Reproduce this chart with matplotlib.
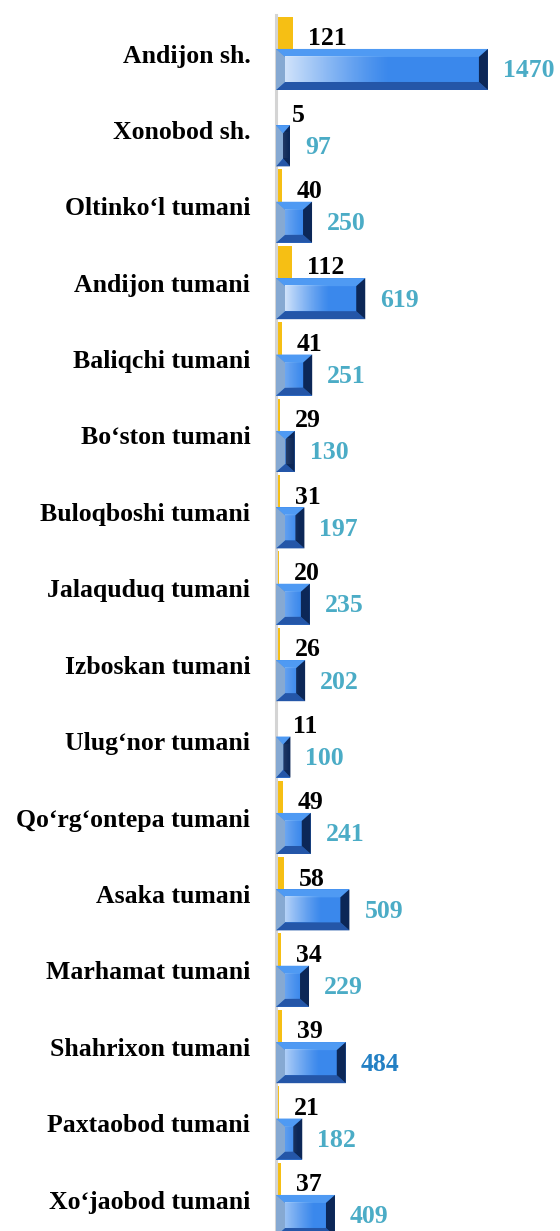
import numpy as np
import matplotlib
matplotlib.use("Agg")
import matplotlib.pyplot as plt
from matplotlib.patches import Polygon

districts = [
    "Andijon sh.", "Xonobod sh.", "Oltinko‘l tumani", "Andijon tumani",
    "Baliqchi tumani", "Bo‘ston tumani", "Buloqboshi tumani", "Jalaquduq tumani",
    "Izboskan tumani", "Ulug‘nor tumani", "Qo‘rg‘ontepa tumani", "Asaka tumani",
    "Marhamat tumani", "Shahrixon tumani", "Paxtaobod tumani", "Xo‘jaobod tumani",
]
small_vals = [121, 5, 40, 112, 41, 29, 31, 20, 26, 11, 49, 58, 34, 39, 21, 37]
large_vals = [1470, 97, 250, 619, 251, 130, 197, 235, 202, 100, 241, 509, 229, 484, 182, 409]

plt.rcParams["font.family"] = ["Liberation Serif", "DejaVu Serif"]

W, H, DPI = 560, 1231, 100
fig = plt.figure(figsize=(W / DPI, H / DPI), dpi=DPI)
ax = fig.add_axes([276 / W, 0, 284 / W, 1])

XMAX = 1970
row_px = 76.4
y_top = -53.5 / row_px
y_bot = (H - 53.5) / row_px

ypos = np.arange(len(districts))
y_small = ypos - 0.229
y_large = ypos + 0.209
h_small, h_large = 0.51, 0.537

# yellow series
ax.barh(y_small, small_vals, height=h_small, color="#F6BF14", zorder=2)

# blue series with a bevel look
px_x = 284 / XMAX  # pixels per unit
for y, v in zip(y_large, large_vals):
    y0, y1 = y - h_large / 2, y + h_large / 2
    ax.barh(y, v, height=h_large, color="#3A88EC", zorder=3)
    bx = min(9 / px_x, v / 2)
    by = 8 / row_px
    polys = [
        ([(0, y0), (v, y0), (v - bx, y0 + by), (bx, y0 + by)], "#4F9AF3"),
        ([(0, y1), (v, y1), (v - bx, y1 - by), (bx, y1 - by)], "#2456A8"),
        ([(v, y0), (v, y1), (v - bx, y1 - by), (v - bx, y0 + by)], "#0C2757"),
        ([(0, y0), (0, y1), (bx, y1 - by), (bx, y0 + by)], "#86A9D2"),
    ]
    for pts, c in polys:
        ax.add_patch(Polygon(pts, closed=True, facecolor=c, edgecolor="none", zorder=4))
    # soft shine from the left
    length = v * 0.5
    amax = 0.8 * min(1.0, v / 600)
    grad = np.zeros((1, 64, 4))
    grad[..., :3] = 1.0
    grad[0, :, 3] = np.linspace(amax, 0, 64) ** 1.2
    ax.imshow(grad, extent=(bx, bx + length, y1 - by, y0 + by), aspect="auto",
              zorder=5, interpolation="bilinear")

# value labels
label_colors = {"Shahrixon tumani": "#2380C4"}
for name, y, v in zip(districts, y_small, small_vals):
    ax.annotate(str(v), (v, y), xytext=(15 * 72 / DPI, -2), textcoords="offset points",
                ha="left", va="center", fontsize=18.5, fontweight="bold",
                color="black", zorder=6)
for name, y, v in zip(districts, y_large, large_vals):
    ax.annotate(str(v), (v, y), xytext=(15 * 72 / DPI, -1), textcoords="offset points",
                ha="left", va="center", fontsize=18.5, fontweight="bold",
                color=label_colors.get(name, "#4BACC6"), zorder=6)

ax.set_xlim(0, XMAX)
ax.set_ylim(y_bot, y_top)
ax.set_yticks(ypos, districts, fontsize=18.5, fontweight="bold")
ax.tick_params(axis="y", length=0, pad=18.5)
ax.set_xticks([])
for s in ("top", "right", "bottom"):
    ax.spines[s].set_visible(False)
ax.spines["left"].set_color("#D4D4D4")
ax.spines["left"].set_linewidth(2.2)
ax.spines["left"].set_bounds(-0.5, y_bot)
ax.patch.set_alpha(0)

fig.savefig("out.png", dpi=DPI)
